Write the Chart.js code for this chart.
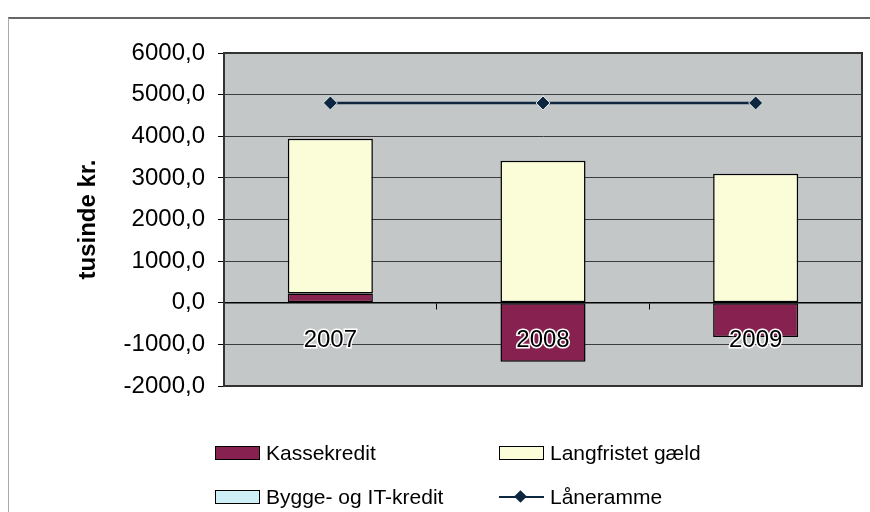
<!DOCTYPE html>
<html>
<head>
<meta charset="utf-8">
<script src="https://cdn.jsdelivr.net/npm/chart.js@4.4.1/dist/chart.umd.min.js"></script>
<style>
html, body { margin: 0; padding: 0; background: #fff; }
#wrap { position: relative; width: 870px; height: 512px; overflow: hidden; font-family: "Liberation Sans", Arial, sans-serif; }
#frame { position: absolute; left: 8px; top: 17px; width: 900px; height: 520px; border-top: 2px solid #666; border-left: 1px solid #aaa; }
canvas { position: absolute; left: 0; top: 0; }
.item { position: absolute; height: 24px; line-height: 24px; font-size: 21px; color: #000; white-space: nowrap; }
.sw { position: absolute; left: 0; top: 5px; width: 45px; height: 14px; box-sizing: border-box; border: 1px solid #000; }
.ln { position: absolute; left: 0; top: 11px; width: 45px; height: 2px; background: #0d2740; }
.dm { position: absolute; left: 17px; top: 7px; width: 9px; height: 9px; background: #0d2740; transform: rotate(45deg); }
.tx { position: absolute; left: 51px; top: 0; }
</style>
</head>
<body>
<div id="wrap">
  <div id="frame"></div>
  <canvas id="chart" width="870" height="512"></canvas>
  <div id="legend"></div>
</div>
<script>
const years = ['2007', '2008', '2009'];
const kassekredit = [220, -1420, -820];
const byggeIT = [0, 0, 0];
const langfristet = [3720, 3410, 3100];
const laaneramme = [4800, 4800, 4800];
const yTicks = [-2000, -1000, 0, 1000, 2000, 3000, 4000, 5000, 6000];

const FONT = '"Liberation Sans", Arial, sans-serif';

// grå plotbaggrund + ramme
const plotBox = {
  id: 'plotBox',
  beforeDraw(chart) {
    const { ctx, chartArea: a } = chart;
    ctx.save();
    ctx.fillStyle = '#c4c7c8';
    ctx.fillRect(a.left, a.top, a.width, a.height);
    ctx.restore();
  },
  afterDraw(chart) {
    const { ctx, chartArea: a } = chart;
    ctx.save();
    ctx.strokeStyle = '#333';
    ctx.lineWidth = 2;
    ctx.strokeRect(a.left, a.top, a.width, a.height);
    ctx.restore();
  }
};

const chart = new Chart(document.getElementById('chart'), {
  type: 'bar',
  data: {
    labels: years,
    datasets: [
      { label: 'Kassekredit', data: kassekredit, backgroundColor: '#87214f', borderColor: '#000', borderWidth: 1.5, borderSkipped: false, order: 1 },
      { label: 'Bygge- og IT-kredit', data: byggeIT, backgroundColor: '#cdeff5', borderColor: '#000', borderWidth: 0, order: 1 },
      { label: 'Langfristet gæld', data: langfristet, backgroundColor: '#fbfdd8', borderColor: '#000', borderWidth: 1.5, borderSkipped: false, order: 1 },
      { type: 'line', label: 'Låneramme', data: laaneramme, borderColor: '#0d2740', borderWidth: 2.5,
        pointStyle: 'rectRot', pointRadius: 7, pointBackgroundColor: '#0d2740', pointBorderColor: '#e4ecee', pointBorderWidth: 1, order: 0 }
    ]
  },
  options: {
    responsive: false,
    animation: false,
    layout: { padding: { left: 0, right: 8, top: 53, bottom: 126 } },
    datasets: { bar: { barPercentage: 0.4, categoryPercentage: 1 } },
    plugins: { legend: { display: false }, tooltip: { enabled: false } },
    scales: {
      x: {
        stacked: true,
        position: { y: 0 },
        offset: true,
        grid: { offset: true, drawOnChartArea: false, drawTicks: true, tickLength: 6, color: '#000', z: 1 },
        border: { display: true, color: '#000', width: 1.5, z: 1 },
        ticks: { z: 1, font: { family: FONT, size: 24 }, color: '#000', padding: 17, textStrokeColor: '#fff', textStrokeWidth: 3 }
      },
      y: {
        stacked: true,
        min: -2000,
        max: 6000,
        afterBuildTicks: s => { s.ticks = yTicks.map(v => ({ value: v })); },
        afterFit: s => { s.width = 224; },
        grid: { color: '#3c3c3c', lineWidth: 1, tickLength: 6, tickColor: '#000' },
        border: { color: '#000', width: 2 },
        ticks: { font: { family: FONT, size: 24 }, color: '#000', padding: 13,
          callback: v => v.toFixed(1).replace('.', ',') },
        title: { display: true, text: 'tusinde kr.', color: '#000',
          font: { family: FONT, size: 24, weight: 'bold' }, padding: { top: 74, bottom: 0 } }
      }
    }
  },
  plugins: [plotBox]
});

// forklaring i to kolonner (kolonnevis som i Excel)
const legend = document.getElementById('legend');
chart.data.datasets.forEach((ds, i) => {
  const col = Math.floor(i / 2), row = i % 2;
  const item = document.createElement('div');
  item.className = 'item';
  item.style.left = (215 + col * 284) + 'px';
  item.style.top = (441 + row * 44) + 'px';
  if (ds.type === 'line') {
    item.innerHTML = '<div class="ln"></div><div class="dm"></div>';
  } else {
    item.innerHTML = '<div class="sw" style="background:' + ds.backgroundColor + '"></div>';
  }
  const t = document.createElement('div');
  t.className = 'tx';
  t.textContent = ds.label;
  item.appendChild(t);
  legend.appendChild(item);
});
</script>
</body>
</html>
